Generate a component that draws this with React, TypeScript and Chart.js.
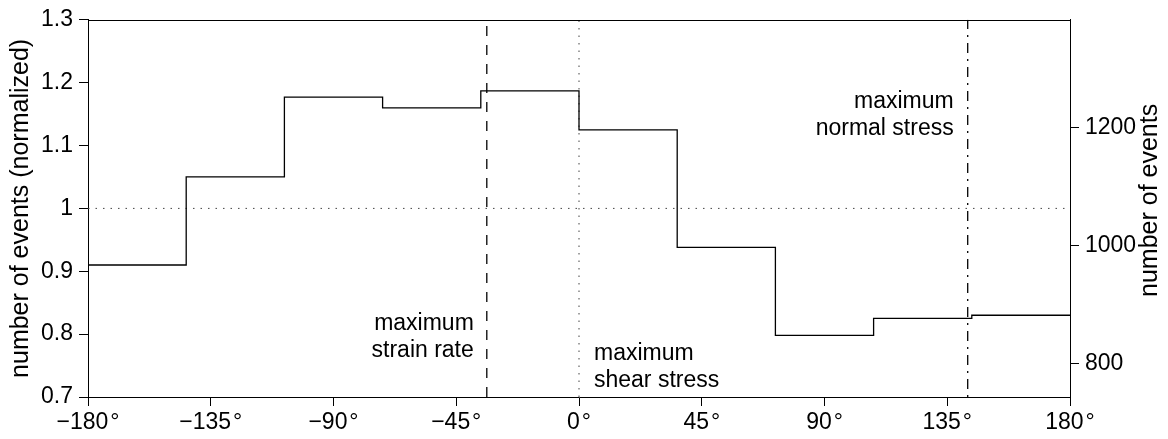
import React, { useEffect, useRef } from 'react';
import { Chart, registerables } from 'chart.js';

Chart.register(...registerables);

// ---- data ----
const binEdges = [-180, -144, -108, -72, -36, 0, 36, 72, 108, 144, 180];
const normalizedCounts = [0.91, 1.05, 1.177, 1.16, 1.187, 1.125, 0.938, 0.798, 0.825, 0.83];
const xTicks = [-180, -135, -90, -45, 0, 45, 90, 135, 180];
const yTicks = [0.7, 0.8, 0.9, 1.0, 1.1, 1.2, 1.3];
const eventTicks = [800, 1000, 1200];
const eventsPerUnit = 1063;
const referenceLevel = 1.0;
const strainRateAngle = -33.8;
const shearStressAngle = 0;
const normalStressAngle = 142.5;
const yMin = 0.7;
const yMax = 1.3;

const FONT = '"Liberation Sans", Arial, Helvetica, sans-serif';
const FS = 23;
const TFS = 25;

function fmtAngle(v: number): string {
  const s = v < 0 ? '\u2212' + Math.abs(v) : String(v);
  return s + '\u200A°';
}

export default function App() {
  const ref = useRef<HTMLCanvasElement | null>(null);

  useEffect(() => {
    if (!ref.current) return;
    Chart.defaults.font.family = FONT;
    Chart.defaults.font.size = FS;
    Chart.defaults.color = '#000';

    const stepPoints = binEdges.map((e, i) => ({
      x: e,
      y: normalizedCounts[Math.min(i, normalizedCounts.length - 1)],
    }));

    const vLine = (a: number) => [
      { x: a, y: yMin },
      { x: a, y: yMax },
    ];

    const overlay = {
      id: 'overlay',
      afterDatasetsDraw(chart: any) {
        const { ctx, chartArea: a, scales } = chart;
        const xs = scales.x;
        const ys = scales.y;
        ctx.save();
        // top border of the box
        ctx.strokeStyle = '#000';
        ctx.lineWidth = 1;
        ctx.beginPath();
        const ty = Math.round(a.top) + 0.5;
        ctx.moveTo(a.left, ty);
        ctx.lineTo(a.right, ty);
        ctx.stroke();

        ctx.fillStyle = '#000';
        ctx.font = `${FS}px ${FONT}`;
        ctx.textBaseline = 'middle';
        const lh = 27;
        // strain rate
        ctx.textAlign = 'right';
        let px = xs.getPixelForValue(strainRateAngle) - 13;
        let py = ys.getPixelForValue(0.817);
        ctx.fillText('maximum', px, py);
        ctx.fillText('strain rate', px, py + lh);
        // normal stress
        px = xs.getPixelForValue(normalStressAngle) - 14;
        py = ys.getPixelForValue(1.169);
        ctx.fillText('maximum', px, py);
        ctx.fillText('normal stress', px, py + lh);
        // shear stress
        ctx.textAlign = 'left';
        px = xs.getPixelForValue(shearStressAngle) + 15;
        py = ys.getPixelForValue(0.769);
        ctx.fillText('maximum', px, py);
        ctx.fillText('shear stress', px, py + lh);

        // right axis title (reads bottom to top)
        ctx.font = `${TFS}px ${FONT}`;
        ctx.translate(1150, (a.top + a.bottom) / 2 - 8);
        ctx.rotate(-Math.PI / 2);
        ctx.textAlign = 'center';
        ctx.fillText('number of events', 0, 0);
        ctx.restore();
      },
    };

    const chart = new Chart(ref.current, {
      type: 'line',
      data: {
        datasets: [
          {
            data: stepPoints,
            stepped: true,
            borderColor: '#000',
            borderWidth: 1.3,
            pointRadius: 0,
            fill: false,
          },
          {
            data: [
              { x: -180, y: referenceLevel },
              { x: 180, y: referenceLevel },
            ],
            borderColor: '#444',
            borderWidth: 1,
            borderDash: [1.5, 6],
            pointRadius: 0,
          },
          {
            data: vLine(shearStressAngle),
            borderColor: '#444',
            borderWidth: 1,
            borderDash: [1.5, 6],
            pointRadius: 0,
          },
          {
            data: vLine(strainRateAngle),
            borderColor: '#000',
            borderWidth: 1.3,
            borderDash: [10, 9],
            pointRadius: 0,
          },
          {
            data: vLine(normalStressAngle),
            borderColor: '#000',
            borderWidth: 1.3,
            borderDash: [2, 6, 10, 6],
            pointRadius: 0,
          },
        ],
      },
      options: {
        responsive: false,
        animation: false,
        devicePixelRatio: 1,
        layout: { padding: { top: 17, left: 0, right: 0, bottom: 0 } },
        plugins: {
          legend: { display: false },
          tooltip: { enabled: false },
        },
        scales: {
          x: {
            type: 'linear',
            min: -180,
            max: 180,
            afterBuildTicks: (s: any) => {
              s.ticks = xTicks.map((v) => ({ value: v }));
            },
            afterFit: (s: any) => {
              s.height = 42;
            },
            ticks: {
              autoSkip: false,
              maxRotation: 0,
              padding: 3,
              callback: (v: any) => fmtAngle(Number(v)),
              font: { size: FS, family: FONT },
              color: '#000',
            },
            grid: {
              drawOnChartArea: false,
              drawTicks: true,
              tickLength: 9,
              tickColor: '#000',
            },
            border: { display: true, color: '#000', width: 1 },
          },
          y: {
            type: 'linear',
            position: 'left',
            min: yMin,
            max: yMax,
            afterBuildTicks: (s: any) => {
              s.ticks = yTicks.map((v) => ({ value: v }));
            },
            afterFit: (s: any) => {
              s.width = 88;
            },
            ticks: {
              padding: 6,
              callback: (v: any) => String(Number(Number(v).toFixed(1))),
              font: { size: FS, family: FONT },
              color: '#000',
            },
            grid: {
              drawOnChartArea: false,
              drawTicks: true,
              tickLength: 9,
              tickColor: '#000',
            },
            border: { display: true, color: '#000', width: 1 },
            title: {
              display: true,
              text: 'number of events (normalized)',
              font: { size: TFS, family: FONT },
              color: '#000',
              padding: { top: 6, bottom: 0 },
            },
          },
          y2: {
            type: 'linear',
            position: 'right',
            min: yMin * eventsPerUnit,
            max: yMax * eventsPerUnit,
            afterBuildTicks: (s: any) => {
              s.ticks = eventTicks.map((v) => ({ value: v }));
            },
            afterFit: (s: any) => {
              s.width = 98;
            },
            ticks: {
              padding: 6,
              callback: (v: any) => String(v),
              font: { size: FS, family: FONT },
              color: '#000',
            },
            grid: {
              drawOnChartArea: false,
              drawTicks: true,
              tickLength: 9,
              tickColor: '#000',
            },
            border: { display: true, color: '#000', width: 1 },
          },
        },
      },
      plugins: [overlay],
    } as any);

    return () => chart.destroy();
  }, []);

  return (
    <div style={{ position: 'absolute', left: 0, top: 0, width: 1168, height: 439, background: '#fff' }}>
      <canvas ref={ref} width={1168} height={439} style={{ display: 'block' }} />
    </div>
  );
}
